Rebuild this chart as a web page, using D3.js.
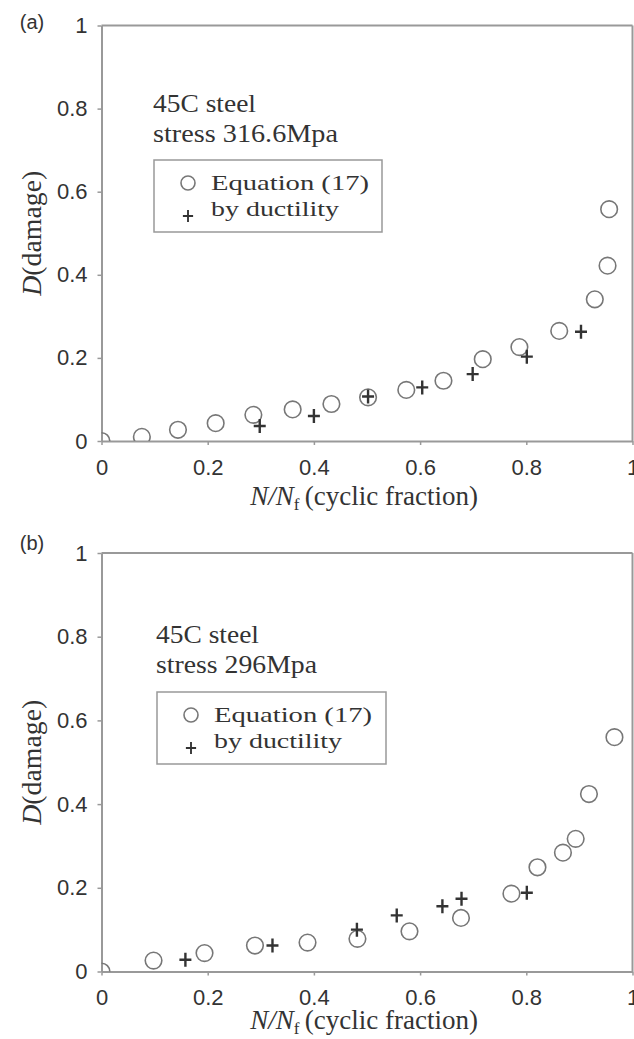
<!DOCTYPE html>
<html>
<head>
<meta charset="utf-8">
<script src="https://cdn.jsdelivr.net/npm/d3@7"></script>
<style>
  body { margin: 0; background: #fff; }
  svg { display: block; }
</style>
</head>
<body>
<script>
// valeurs
const tickValues = [0, 0.2, 0.4, 0.6, 0.8, 1];

const eqXa = [0, 0.076, 0.144, 0.215, 0.286, 0.36, 0.433, 0.502, 0.574, 0.644, 0.718, 0.787, 0.862, 0.929, 0.953, 0.956];
const eqYa = [0, 0.010, 0.027, 0.043, 0.063, 0.076, 0.089, 0.105, 0.123, 0.145, 0.197, 0.226, 0.265, 0.341, 0.422, 0.558];
const ductXa = [0.298, 0.4, 0.502, 0.604, 0.699, 0.801, 0.903];
const ductYa = [0.036, 0.060, 0.107, 0.129, 0.161, 0.203, 0.263];

const eqXb = [0, 0.098, 0.194, 0.289, 0.388, 0.482, 0.580, 0.677, 0.772, 0.821, 0.869, 0.893, 0.918, 0.966];
const eqYb = [0, 0.026, 0.044, 0.062, 0.069, 0.078, 0.096, 0.128, 0.186, 0.249, 0.284, 0.317, 0.424, 0.560];
const ductXb = [0.158, 0.322, 0.481, 0.556, 0.642, 0.678, 0.801];
const ductYb = [0.028, 0.062, 0.100, 0.134, 0.156, 0.174, 0.188];

const legendLabels = ["Equation (17)", "by ductility"];

const width = 634, height = 1039;
const svg = d3.select("body").append("svg")
    .attr("width", width)
    .attr("height", height);

const AXIS = "#999";
const INK = "#333";
const SANS = "'Liberation Sans', Arial, sans-serif";
const SERIF = "'Liberation Serif', 'Times New Roman', serif";

const plusPath = "M-6,0H6M0,-7V7";

function drawPanel(cfg) {
    const x = d3.scaleLinear().domain([0, 1]).range([101.5, 632.5]);
    const y = d3.scaleLinear().domain([0, 1]).range([cfg.bottom, cfg.top]);
    const g = svg.append("g");

    // zone de tracé (pour couper les marqueurs à l'origine)
    const clipId = "clip-" + cfg.tag;
    svg.append("defs").append("clipPath").attr("id", clipId)
       .append("rect")
       .attr("x", x(0)).attr("y", y(1))
       .attr("width", x(1) - x(0)).attr("height", y(0) - y(1));

    // cadre haut et droit
    g.append("line")
     .attr("x1", x(0)).attr("x2", x(1)).attr("y1", y(1)).attr("y2", y(1))
     .attr("stroke", AXIS).attr("stroke-width", 2);
    g.append("line")
     .attr("x1", x(1)).attr("x2", x(1)).attr("y1", y(1)).attr("y2", y(0))
     .attr("stroke", AXIS).attr("stroke-width", 2);

    const yAxis = g.append("g")
        .attr("transform", `translate(${x(0)},0)`)
        .call(d3.axisLeft(y).tickValues(tickValues).tickFormat(d => String(d))
              .tickSize(4).tickSizeOuter(0).tickPadding(10));
    const xAxis = g.append("g")
        .attr("transform", `translate(0,${y(0)})`)
        .call(d3.axisBottom(x).tickValues(tickValues).tickFormat(d => String(d))
              .tickSize(4).tickSizeOuter(0).tickPadding(14));

    [yAxis, xAxis].forEach(a => {
        a.select(".domain").attr("stroke", AXIS).attr("stroke-width", 2);
        a.selectAll(".tick line").attr("stroke", AXIS).attr("stroke-width", 1.5);
        a.selectAll(".tick text")
         .attr("font-family", SANS).attr("font-size", 22).attr("fill", INK);
    });

    // étiquette du panneau
    g.append("text")
     .attr("x", 32).attr("y", cfg.tagY)
     .attr("text-anchor", "middle")
     .attr("font-family", SANS).attr("font-size", 20).attr("fill", INK)
     .text(`(${cfg.tag})`);

    // titre axe y
    const yt = g.append("text")
     .attr("transform", `translate(41,${(y(0) + y(1)) / 2}) rotate(-90)`)
     .attr("text-anchor", "middle")
     .attr("textLength", 125).attr("lengthAdjust", "spacingAndGlyphs")
     .attr("font-family", SERIF).attr("font-size", 27).attr("fill", INK);
    yt.append("tspan").attr("font-style", "italic").text("D");
    yt.append("tspan").text("(damage)");

    // titre axe x
    const xt = g.append("text")
     .attr("x", (x(0) + x(1)) / 2 - 3).attr("y", cfg.xTitleY)
     .attr("text-anchor", "middle")
     .attr("font-family", SERIF).attr("font-size", 27).attr("fill", INK);
    xt.append("tspan").attr("font-style", "italic").text("N/N");
    xt.append("tspan").attr("font-size", 17).attr("dy", 5).text("f");
    xt.append("tspan").attr("dy", -5).text("\u2009(cyclic fraction)");

    // annotation
    g.append("text")
     .attr("x", cfg.noteX).attr("y", cfg.noteY)
     .attr("textLength", 103).attr("lengthAdjust", "spacingAndGlyphs")
     .attr("font-family", SERIF).attr("font-size", 26).attr("fill", INK)
     .text("45C steel");
    g.append("text")
     .attr("x", cfg.noteX).attr("y", cfg.noteY + 30)
     .attr("textLength", cfg.stressW).attr("lengthAdjust", "spacingAndGlyphs")
     .attr("font-family", SERIF).attr("font-size", 26).attr("fill", INK)
     .text(cfg.stress);

    // légende
    const lg = g.append("g").attr("transform", `translate(${cfg.legX},${cfg.legY})`);
    lg.append("rect")
      .attr("width", cfg.legW).attr("height", 72)
      .attr("fill", "#fff").attr("stroke", AXIS).attr("stroke-width", 1.5);
    lg.append("circle")
      .attr("cx", 34).attr("cy", 23).attr("r", 7)
      .attr("fill", "none").attr("stroke", "#777").attr("stroke-width", 1.6);
    lg.append("path")
      .attr("d", plusPath).attr("transform", "translate(34,56) scale(0.85)")
      .attr("fill", "none").attr("stroke", INK).attr("stroke-width", 2.2);
    const legW = [158, 128];
    legendLabels.forEach((t, i) => {
        lg.append("text")
          .attr("x", 57).attr("y", 30 + i * 25.5)
          .attr("textLength", legW[i]).attr("lengthAdjust", "spacingAndGlyphs")
          .attr("font-family", SERIF).attr("font-size", 22).attr("fill", INK)
          .text(t);
    });

    const marks = g.append("g").attr("clip-path", `url(#${clipId})`);
    marks.selectAll("circle")
        .data(cfg.eqX.map((v, i) => [v, cfg.eqY[i]]))
        .join("circle")
        .attr("cx", d => x(d[0])).attr("cy", d => y(d[1])).attr("r", 8.3)
        .attr("fill", "none").attr("stroke", "#777").attr("stroke-width", 1.6);
    marks.selectAll("path")
        .data(cfg.ductX.map((v, i) => [v, cfg.ductY[i]]))
        .join("path")
        .attr("d", plusPath)
        .attr("transform", d => `translate(${x(d[0])},${y(d[1])})`)
        .attr("fill", "none").attr("stroke", INK).attr("stroke-width", 2.4);
}

drawPanel({
    tag: "a", top: 25.5, bottom: 441, tagY: 29, xTitleY: 505,
    noteX: 153, noteY: 112, stress: "stress 316.6Mpa", stressW: 185,
    legX: 154, legY: 160, legW: 228,
    eqX: eqXa, eqY: eqYa, ductX: ductXa, ductY: ductYa
});

drawPanel({
    tag: "b", top: 553, bottom: 971.5, tagY: 550, xTitleY: 1029,
    noteX: 156, noteY: 643, stress: "stress 296Mpa", stressW: 161,
    legX: 157, legY: 692, legW: 229,
    eqX: eqXb, eqY: eqYb, ductX: ductXb, ductY: ductYb
});
</script>
</body>
</html>
